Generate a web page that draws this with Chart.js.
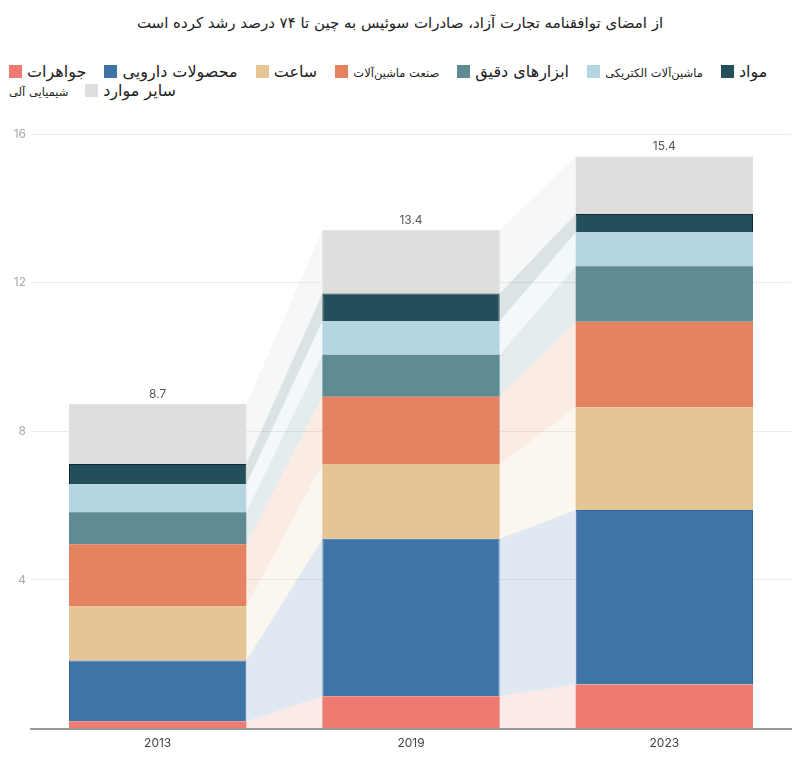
<!DOCTYPE html>
<html lang="fa">
<head>
<meta charset="utf-8">
<script src="https://cdn.jsdelivr.net/npm/chart.js@4.4.1/dist/chart.umd.min.js"></script>
<style>
  html, body { margin: 0; padding: 0; background: #ffffff; width: 800px; height: 762px; overflow: hidden; }
  #title { position: absolute; left: 0; top: 14px; width: 800px; text-align: center; font-family: "DejaVu Sans", sans-serif; font-size: 15px; color: #222; }
  #legend { position: absolute; left: 9px; top: 63px; width: 780px; direction: ltr; text-align: left; font-family: "DejaVu Sans", sans-serif; color: #222; line-height: 18px; font-size: 11.5px; }
  #legend::first-line { font-size: 16px; }
  .sw { display: inline-block; width: 13px; height: 13px; vertical-align: -1px; margin-right: 5px; }
  .lbl { margin-right: 13px; unicode-bidi: isolate; }
  .big { font-size: 16px; }
  .small { font-size: 11.5px; }
  #wrap { position: absolute; left: 0; top: 110px; width: 800px; height: 652px; }
</style>
</head>
<body>
<div id="title"></div>
<div id="legend"></div>
<div id="wrap"><canvas id="c" width="800" height="652"></canvas></div>
<script>
// ---- data ----
const titleText = 'از امضای توافقنامه تجارت آزاد، صادرات سوئیس به چین تا ۷۴ درصد رشد کرده است';
const categories = ['2013', '2019', '2023'];
const seriesNames = ['جواهرات', 'محصولات دارویی', 'ساعت', 'صنعت ماشین‌آلات', 'ابزارهای دقیق', 'ماشین‌آلات الکتریکی', 'مواد شیمیایی آلی', 'سایر موارد'];
const jewelry    = [0.20, 0.87, 1.19];
const pharma     = [1.63, 4.24, 4.69];
const watches    = [1.46, 2.01, 2.77];
const machinery  = [1.67, 1.81, 2.30];
const precision  = [0.86, 1.13, 1.49];
const electrical = [0.75, 0.91, 0.91];
const chemicals  = [0.55, 0.74, 0.50];
const others     = [1.61, 1.70, 1.54];
const yTickStep = 4;
const yMax = 16;

// ---- styles ----
const seriesValues = [jewelry, pharma, watches, machinery, precision, electrical, chemicals, others];
const colors = ['#EE7B71', '#3F74A7', '#E6C595', '#E58360', '#5F8B93', '#B5D5E1', '#224F59', '#DEDEDE'];
const borders = ['#EE7B71', '#2F66A0', '#E6C595', '#E58360', '#5F8B93', '#B5D5E1', '#0E2C33', '#DEDEDE'];
const labelSize = ['big', 'big', 'big', 'small', 'big', 'small', '', 'big'];

document.getElementById('title').textContent = titleText;
const leg = document.getElementById('legend');
seriesNames.forEach((n, i) => {
  const sw = document.createElement('span');
  sw.className = 'sw';
  sw.style.background = colors[i];
  const t = document.createElement('span');
  t.className = ('lbl ' + labelSize[i]).trim();
  t.textContent = n;
  leg.appendChild(sw);
  leg.appendChild(t);
  leg.appendChild(document.createTextNode(' '));
});

function hexA(hex, a) {
  const r = parseInt(hex.slice(1, 3), 16), g = parseInt(hex.slice(3, 5), 16), b = parseInt(hex.slice(5, 7), 16);
  return `rgba(${r},${g},${b},${a})`;
}

const bandsPlugin = {
  id: 'bands',
  beforeDatasetsDraw(chart) {
    const ctx = chart.ctx;
    ctx.save();
    chart.data.datasets.forEach((ds, di) => {
      const meta = chart.getDatasetMeta(di);
      for (let j = 0; j < meta.data.length - 1; j++) {
        const a = meta.data[j].getProps(['x', 'y', 'base', 'width'], true);
        const b = meta.data[j + 1].getProps(['x', 'y', 'base', 'width'], true);
        ctx.beginPath();
        ctx.moveTo(a.x + a.width / 2, a.y);
        ctx.lineTo(b.x - b.width / 2, b.y);
        ctx.lineTo(b.x - b.width / 2, b.base);
        ctx.lineTo(a.x + a.width / 2, a.base);
        ctx.closePath();
        ctx.fillStyle = hexA(colors[di], di === 7 ? 0.25 : 0.16);
        ctx.fill();
      }
    });
    ctx.restore();
  }
};

const totalsPlugin = {
  id: 'totals',
  afterDatasetsDraw(chart) {
    const ctx = chart.ctx;
    const last = chart.data.datasets.length - 1;
    const meta = chart.getDatasetMeta(last);
    ctx.save();
    ctx.font = '12px Inter, Roboto, sans-serif';
    ctx.fillStyle = '#555';
    ctx.textAlign = 'center';
    ctx.textBaseline = 'bottom';
    categories.forEach((c, j) => {
      const total = seriesValues.reduce((s, arr) => s + arr[j], 0);
      const el = meta.data[j];
      ctx.fillText(total.toFixed(1), el.x, el.y - 4);
    });
    ctx.restore();
  }
};

new Chart(document.getElementById('c'), {
  type: 'bar',
  data: {
    labels: categories,
    datasets: seriesValues.map((v, i) => ({
      label: seriesNames[i],
      data: v,
      backgroundColor: colors[i],
      borderColor: borders[i],
      borderWidth: (i === 1 || i === 6) ? 1 : 0,
      barPercentage: 0.7,
      categoryPercentage: 1.0
    }))
  },
  options: {
    responsive: false,
    animation: false,
    layout: { padding: { top: 24, right: 9, left: 0, bottom: 3 } },
    plugins: { legend: { display: false }, tooltip: { enabled: false }, title: { display: false } },
    scales: {
      x: {
        stacked: true,
        grid: { display: false, drawTicks: false },
        border: { display: true, color: '#999', width: 2 },
        ticks: { color: '#444', font: { size: 12, family: 'Inter, Roboto, sans-serif' }, padding: 8 }
      },
      y: {
        stacked: true,
        min: 0,
        max: yMax,
        afterFit(scale) { scale.width = 31; },
        grid: { color: '#ebebeb', drawTicks: false },
        border: { display: false },
        ticks: {
          stepSize: yTickStep,
          padding: 5,
          color: '#aaa',
          font: { size: 12, family: 'Inter, Roboto, sans-serif' },
          callback: (v) => (v === 0 ? '' : v)
        }
      }
    }
  },
  plugins: [bandsPlugin, totalsPlugin]
});
</script>
</body>
</html>
